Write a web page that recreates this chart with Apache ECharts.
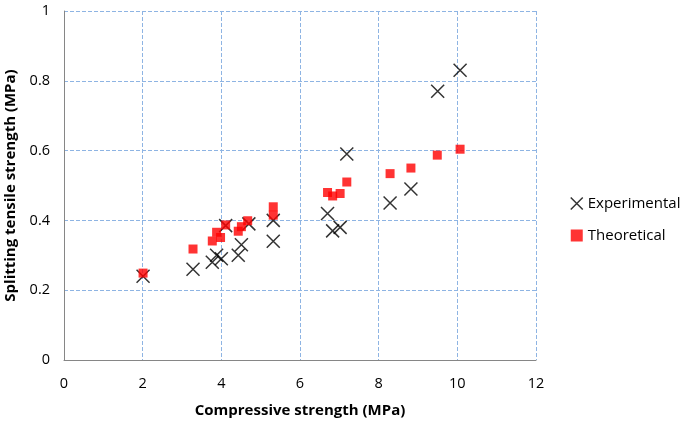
<!DOCTYPE html>
<html><head><meta charset="utf-8">
<script src="https://cdn.jsdelivr.net/npm/echarts@6/dist/echarts.min.js"></script>
<style>html,body{margin:0;padding:0;background:#fff}#c{width:685px;height:423px}</style>
</head><body><div id="c"></div>
<script>
const expX = [2.01,3.28,3.77,3.88,4.00,4.11,4.43,4.51,4.70,5.32,5.32,6.70,6.83,7.02,7.19,8.29,8.82,9.50,10.07];
const expY = [0.24,0.26,0.28,0.30,0.29,0.385,0.30,0.33,0.39,0.34,0.40,0.42,0.37,0.38,0.59,0.45,0.49,0.77,0.83];
const theoX = [2.01,3.28,3.77,3.88,3.98,4.11,4.43,4.51,4.67,5.32,5.32,6.70,6.83,7.02,7.19,8.29,8.82,9.49,10.07];
const theoY = [0.249,0.318,0.341,0.366,0.351,0.387,0.369,0.382,0.399,0.415,0.439,0.480,0.470,0.477,0.510,0.534,0.550,0.587,0.604];
const xTicks = [0,2,4,6,8,10,12];
const yTicks = [0,0.2,0.4,0.6,0.8,1];

const font = 'Open Sans, Liberation Sans, sans-serif';
const cross = 'path://M0,0L10,10M10,0L0,10';
const chart = echarts.init(document.getElementById('c'));
chart.setOption({
  animation:false,
  grid:{left:64,right:149,top:11,bottom:63,containLabel:false,outerBoundsMode:'none'},
  xAxis:{type:'value',min:xTicks[0],max:xTicks[xTicks.length-1],interval:2,
    name:'Compressive strength (MPa)',nameLocation:'middle',nameGap:43,
    nameTextStyle:{fontFamily:font,fontSize:15,fontWeight:'bold',color:'#000'},
    axisLine:{lineStyle:{color:'#868686',width:1}},axisTick:{show:false},
    axisLabel:{fontFamily:font,fontSize:14.5,color:'#000',margin:16},
    splitLine:{show:true,lineStyle:{color:'#8EB4E3',type:[4,2],width:1}}},
  yAxis:{type:'value',min:yTicks[0],max:yTicks[yTicks.length-1],interval:0.2,
    name:'Splitting tensile strength (MPa)',nameLocation:'middle',nameGap:44,
    nameTextStyle:{fontFamily:font,fontSize:15,fontWeight:'bold',color:'#000'},
    axisLine:{show:true,lineStyle:{color:'#868686',width:1}},axisTick:{show:false},
    axisLabel:{fontFamily:font,fontSize:14.5,color:'#000',margin:14},
    splitLine:{show:true,lineStyle:{color:'#8EB4E3',type:[4,2],width:1}}},
  legend:{orient:'vertical',left:565,top:191,itemGap:17,itemWidth:12,itemHeight:12,
    textStyle:{fontFamily:font,fontSize:15,color:'#000'},
    data:[{name:'Experimental',icon:cross,itemStyle:{color:'rgba(0,0,0,0)',borderColor:'#000',borderWidth:1.5}},
          {name:'Theoretical',icon:'rect'}]},
  series:[
    {name:'Experimental',type:'scatter',symbol:cross,symbolSize:13,
     itemStyle:{color:'rgba(0,0,0,0)',borderColor:'#000',borderWidth:1.5},
     data:expX.map((x,i)=>[x,expY[i]])},
    {name:'Theoretical',type:'scatter',symbol:'rect',symbolSize:9,
     itemStyle:{color:'#FF0000'},
     data:theoX.map((x,i)=>[x,theoY[i]])}
  ]
});
</script></body></html>
